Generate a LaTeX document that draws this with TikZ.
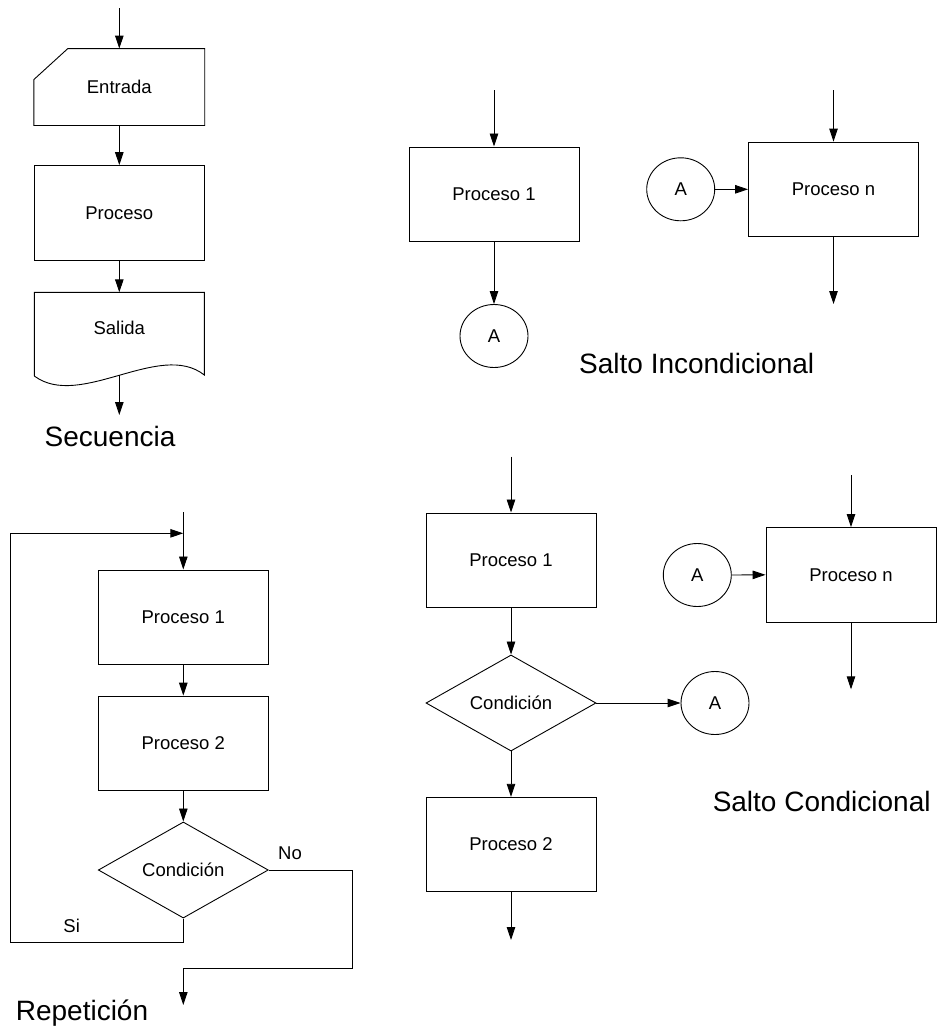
\documentclass[tikz,border=0pt]{standalone}
\usepackage{fontspec}
\setmainfont{Liberation Sans}
\usetikzlibrary{arrows.meta,shapes.geometric,calc}
\begin{document}
\begin{tikzpicture}[x=1pt,y=-1pt,
  line width=0.9pt,
  every node/.style={font=\fontsize{18.5}{21}\selectfont},
  procbox/.style={draw, rectangle, minimum width=170pt, minimum height=94.5pt, inner sep=0pt},
  jump/.style={draw, ellipse, minimum width=68pt, minimum height=63pt, inner sep=0pt},
  decision/.style={draw, diamond, minimum width=170pt, minimum height=94pt, inner sep=0pt},
  link/.style={draw, -{Triangle[length=13pt,width=8.5pt]}},
  title/.style={font=\fontsize{28}{31}\selectfont, anchor=base},
  branch/.style={anchor=base}
]
\useasboundingbox (0,0) rectangle (938,1028);

% ---------- Secuencia ----------
\coordinate (s0) at (119.3,8);
\node[minimum width=170pt, minimum height=76pt, inner sep=0pt] (ent) at (119.3,87) {Entrada};
\draw ($(ent.north west)+(34,0)$) -- (ent.north east) -- (ent.south east)
      -- (ent.south west) -- ($(ent.north west)+(0,31)$) -- cycle;
\node[procbox] (sproc) at (119.3,212.8) {Proceso};
\coordinate (saltop) at (119.3,292.3);
\node (sal) at (119.3,327.5) {Salida};
\draw (34.3,376) -- (34.3,292.3) -- (204.3,292.3) -- (204.3,375)
      .. controls (160,340) and (80,410) .. (34.3,376);
\coordinate (salb) at (119.3,375);
\coordinate (sout) at (119.3,415);
\draw[link] (s0) -- (ent.north);
\draw[link] (ent.south) -- (sproc.north);
\draw[link] (sproc.south) -- (saltop);
\draw[link] (salb) -- (sout);
\node[title] (tseq) at (110,446.7) {Secuencia};

% ---------- Salto Incondicional ----------
\coordinate (i0) at (494,90);
\node[procbox] (ip1) at (494,194.2) {Proceso 1};
\node[jump] (ia) at (494,336) {A};
\draw[link] (i0) -- (ip1.north);
\draw[link] (ip1.south) -- (ia.north);
\node[jump] (ia2) at (680.7,189.3) {A};
\node[procbox] (ipn) at (833.5,189.3) {Proceso n};
\coordinate (in0) at (833.5,90);
\coordinate (in1) at (833.5,304);
\draw[link] (ia2.east) -- (ipn.west);
\draw[link] (in0) -- (ipn.north);
\draw[link] (ipn.south) -- (in1);
\node[title] (tinc) at (696.7,373.3) {Salto Incondicional};

% ---------- Repetición ----------
\coordinate (r0) at (183.3,512.3);
\coordinate (rj) at (183.3,533.3);
\node[procbox] (rp1) at (183.3,617.2) {Proceso 1};
\node[procbox] (rp2) at (183.3,743.3) {Proceso 2};
\node[decision] (rc) at (183.3,870) {Condición};
\draw (r0) -- (rj);
\draw[link] (rj) -- (rp1.north);
\draw[link] (rp1.south) -- (rp2.north);
\draw[link] (rp2.south) -- (rc.north);
\coordinate (rl1) at (183.3,942);
\coordinate (rl2) at (10,942);
\coordinate (rl3) at (10,533.3);
\draw[link] (rc.south) -- (rl1) -- (rl2) -- (rl3) -- (rj);
\coordinate (rn1) at (352.3,870);
\coordinate (rn2) at (352.3,968.3);
\coordinate (rn3) at (183.3,968.3);
\coordinate (rout) at (183.3,1005);
\draw[link] (rc.east) -- (rn1) -- (rn2) -- (rn3) -- (rout);
\node[branch] (lno) at (290,859.5) {No};
\node[branch] (lsi) at (71.7,932.5) {Si};
\node[title] (trep) at (82,1020) {Repetición};

% ---------- Salto Condicional ----------
\coordinate (c0) at (511,456.7);
\node[procbox] (cp1) at (511,560.2) {Proceso 1};
\node[decision] (cc) at (511,703) {Condición};
\node[jump] (ca) at (715,703) {A};
\node[procbox] (cp2) at (511,844.5) {Proceso 2};
\coordinate (cout) at (511,940);
\draw[link] (c0) -- (cp1.north);
\draw[link] (cp1.south) -- (cc.north);
\draw[link] (cc.east) -- (ca.west);
\draw[link] (cc.south) -- (cp2.north);
\draw[link] (cp2.south) -- (cout);
\node[jump] (ca2) at (697.3,575) {A};
\node[procbox] (cpn) at (851,574.8) {Proceso n};
\coordinate (cn0) at (851,475);
\coordinate (cn1) at (851,689.3);
\draw[link] (ca2.east) -- (cpn.west);
\draw[link] (cn0) -- (cpn.north);
\draw[link] (cpn.south) -- (cn1);
\node[title] (tcond) at (821.7,811.7) {Salto Condicional};
\end{tikzpicture}
\end{document}
